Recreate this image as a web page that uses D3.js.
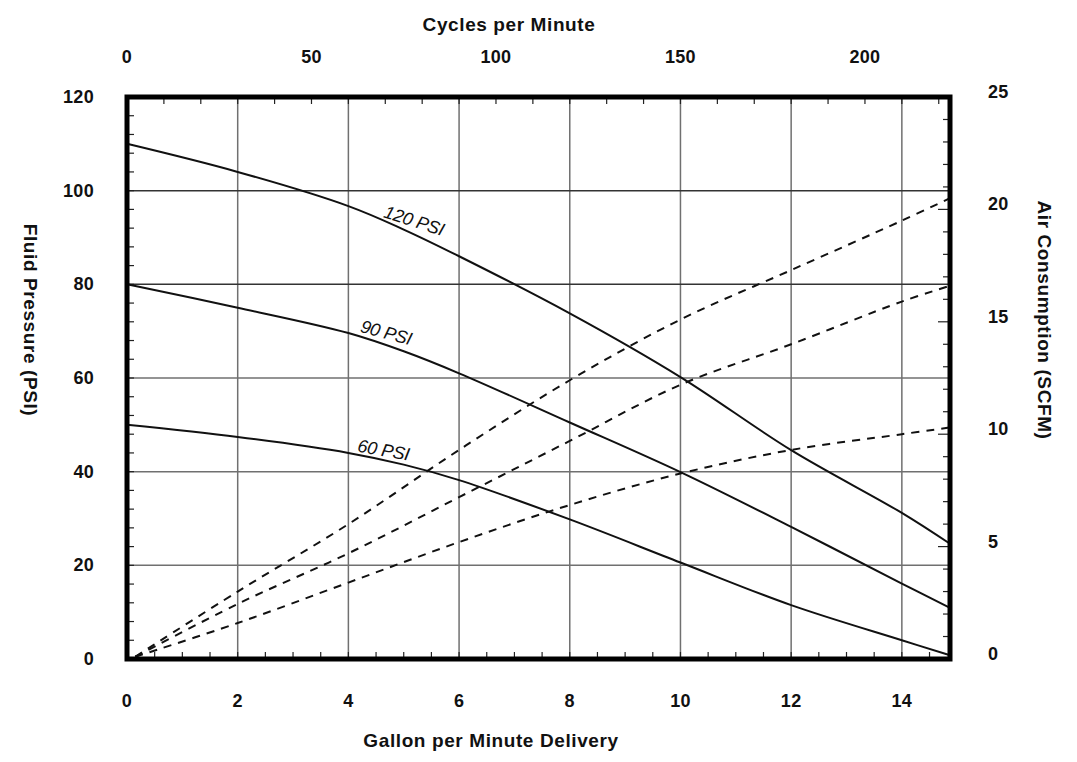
<!DOCTYPE html>
<html><head><meta charset="utf-8">
<script src="https://cdn.jsdelivr.net/npm/d3@7"></script>
<style>body{margin:0;background:#fff}svg{display:block}text{font-family:"Liberation Sans",Arial,sans-serif}</style>
</head><body><svg id="c" width="1077" height="762"></svg>
<script>
const gpmTicks=[0,2,4,6,8,10,12,14];
const psiTicks=[0,20,40,60,80,100,120];
const scfmTicks=[0,5,10,15,20,25];
const cpmTicks=[0,50,100,150,200];
const gpm=[0,2,4,5,6,8,10,12,14,14.87];
const psi120=[110,104,96.7,91.7,86,73.8,60.2,44.6,31.2,24.6];
const psi90=[80,75,69.6,65.7,61,50.5,39.9,28.2,16.1,10.9];
const psi60=[50,47.4,44,41.5,38.2,29.8,20.6,11.5,4.0,0.8];
const airGpm=[0.15,2,4,6,8,10,12,14,14.87];
const air120=[0.1,3.0,6.0,9.3,12.4,15.1,17.3,19.5,20.5];
const air90=[0.1,2.45,4.7,7.2,9.7,12.2,14.0,15.9,16.6];
const air60=[0.1,1.6,3.4,5.2,6.85,8.25,9.3,10.0,10.3];
const curveLabels=["120 PSI","90 PSI","60 PSI"];

const svg=d3.select("#c");
const L=127,R=950,T=97,B=659;
const x=d3.scaleLinear().domain([0,14.87]).range([L,R]);
const xc=d3.scaleLinear().domain([0,14.87*15]).range([L,R]);
const y=d3.scaleLinear().domain([0,120]).range([B,T]);
const y2=d3.scaleLinear().domain([0,25]).range([B,T]);

// grid
svg.append("g").selectAll("line").data(gpmTicks.filter(d=>d>0)).join("line")
 .attr("x1",d=>x(d)).attr("x2",d=>x(d)).attr("y1",T).attr("y2",B)
 .attr("stroke","#707070").attr("stroke-width",1.5);
svg.append("g").selectAll("line").data(psiTicks.filter(d=>d>0&&d<120)).join("line")
 .attr("x1",L).attr("x2",R).attr("y1",d=>y(d)).attr("y2",d=>y(d))
 .attr("stroke",d=>(d==80||d==100)?"#333":"#707070").attr("stroke-width",1.5);

// inner minor ticks
const tk=(data,f)=>svg.append("g").selectAll("line").data(data).join("line").each(f).attr("stroke","#222").attr("stroke-width",1.2);
tk(d3.range(0,14.9,0.5),function(d){d3.select(this).attr("x1",x(d)).attr("x2",x(d)).attr("y1",B).attr("y2",B-7);});
tk(d3.range(0,221,10),function(d){d3.select(this).attr("x1",xc(d)).attr("x2",xc(d)).attr("y1",T).attr("y2",T+7);});
tk(d3.range(0,121,4),function(d){d3.select(this).attr("x1",L).attr("x2",L+7).attr("y1",y(d)).attr("y2",y(d));});
tk(d3.range(0,26,1),function(d){d3.select(this).attr("x1",R).attr("x2",R-(d%5==0?12:7)).attr("y1",y2(d)).attr("y2",y2(d));});

// curves
const line=(xs,ys,sc)=>d3.line().x((d,i)=>x(xs[i])).y(d=>sc(d)).curve(d3.curveCatmullRom.alpha(0.5))(ys);
[psi120,psi90,psi60].forEach(s=>svg.append("path").attr("d",line(gpm,s,y)).attr("fill","none").attr("stroke","#111").attr("stroke-width",2));
[air120,air90,air60].forEach(s=>svg.append("path").attr("d",line(airGpm,s,y2)).attr("fill","none").attr("stroke","#111").attr("stroke-width",2).attr("stroke-dasharray","8,7"));

// curve labels
const lp=[[4.62,94.4,18],[4.2,69.9,15],[4.15,44.3,10]];
curveLabels.forEach((t,i)=>{
 const [gx,py,a]=lp[i];
 svg.append("text").attr("transform",`translate(${x(gx)},${y(py)}) rotate(${a})`)
  .attr("font-size",18).attr("font-style","italic").attr("fill","#111").attr("letter-spacing","-0.3").text(t);
});

// border
svg.append("rect").attr("x",L).attr("y",T).attr("width",R-L).attr("height",B-T).attr("fill","none").attr("stroke","#000").attr("stroke-width",5);

// tick labels
const lab={"font-size":18,"font-weight":"bold","fill":"#111","letter-spacing":"0.3"};
const ttl={"font-size":19,"font-weight":"bold","fill":"#111","letter-spacing":"0.6"};
const ap=(s,o)=>{for(const k in o)s.attr(k,o[k]);return s;};
ap(svg.append("g").selectAll("text").data(gpmTicks).join("text").attr("x",d=>x(d)).attr("y",707).attr("text-anchor","middle").text(d=>d),lab);
ap(svg.append("g").selectAll("text").data(cpmTicks).join("text").attr("x",d=>xc(d)).attr("y",63).attr("text-anchor","middle").text(d=>d),lab);
ap(svg.append("g").selectAll("text").data(psiTicks).join("text").attr("x",94).attr("y",d=>y(d)+6).attr("text-anchor","end").text(d=>d),lab);
ap(svg.append("g").selectAll("text").data(scfmTicks).join("text").attr("x",988).attr("y",d=>y2(d)+1).attr("text-anchor","start").text(d=>d),lab);

// titles
ap(svg.append("text").attr("x",509).attr("y",31).attr("text-anchor","middle").text("Cycles per Minute"),ttl);
ap(svg.append("text").attr("x",491).attr("y",747).attr("text-anchor","middle").text("Gallon per Minute Delivery"),ttl);
ap(svg.append("text").attr("transform","translate(24,320) rotate(90)").attr("text-anchor","middle").text("Fluid Pressure (PSI)"),ttl);
ap(svg.append("text").attr("transform","translate(1038,320) rotate(90)").attr("text-anchor","middle").text("Air Consumption (SCFM)"),ttl);
</script></body></html>
